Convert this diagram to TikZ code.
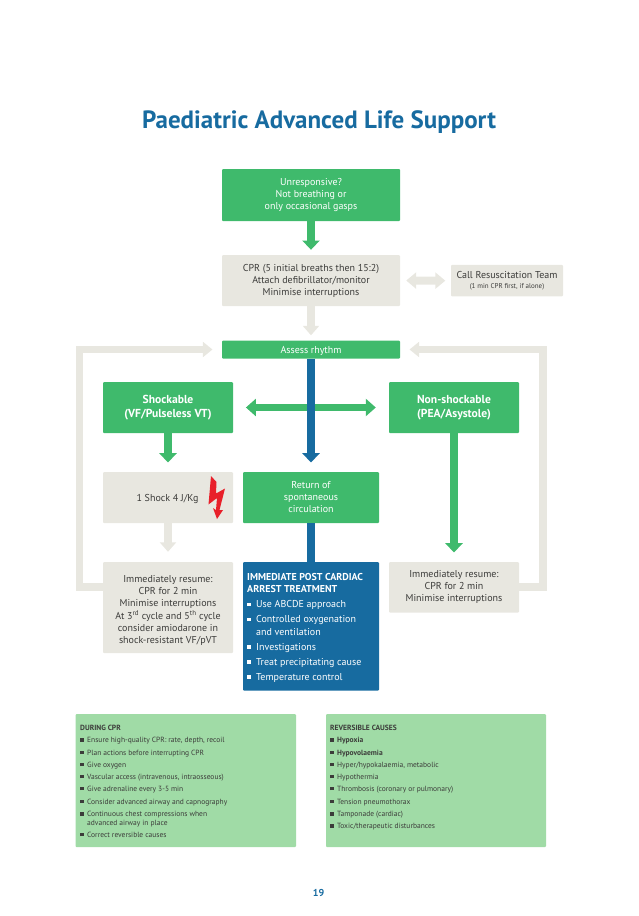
\documentclass[tikz,border=0pt]{standalone}
\usepackage{fontspec}
\setmainfont{PT Sans}
\usetikzlibrary{arrows.meta}
\definecolor{grn}{HTML}{3FBA6C}
\definecolor{gry}{HTML}{E8E7E0}
\definecolor{blu}{HTML}{176BA0}
\definecolor{lgrn}{HTML}{A0DBA6}
\definecolor{ink}{HTML}{3C3C3A}
\definecolor{zap}{HTML}{E8202A}
\newcommand{\bulbox}[2]{\makebox[#1][l]{\rule[0.3ex]{#2}{#2}}}
\newcommand{\bs}{\bulbox{7pt}{3.6pt}}
\newcommand{\bb}{\bulbox{9pt}{3.4pt}}
\newcommand{\supr}[1]{\smash{\textsuperscript{#1}}}
\tikzset{
  x=1pt,y=-1pt,
  boxbase/.style={rounded corners=1pt,inner sep=0pt,align=center,anchor=center,font=\fontsize{10}{12}\selectfont,execute at begin node={\rule{0pt}{11pt}}},
  greenbox/.style={boxbase,fill=grn,text=white},
  graybox/.style={boxbase,fill=gry,text=ink},
  bluebox/.style={boxbase,fill=blu,text=white},
  notebox/.style={rounded corners=1pt,fill=lgrn,inner sep=0pt},
  gflow/.style={draw=grn,line width=7.5pt,-{Triangle[width=17pt,length=9.3pt]},shorten >=9.3pt},
  yflow/.style={draw=gry,line width=7.5pt,-{Triangle[width=16pt,length=9.5pt]},shorten >=5pt},
  bflow/.style={draw=blu,line width=7.5pt,-{Triangle[width=17pt,length=9.3pt]},shorten >=9.3pt},
  bline/.style={draw=blu,line width=7.5pt},
  notetext/.style={anchor=north west,inner sep=0pt,align=left,text=ink,font=\fontsize{7.5}{9}\selectfont},
  posttext/.style={anchor=north west,inner sep=0pt,align=left,text=white,font=\fontsize{10}{12.4}\selectfont},
}
\begin{document}
\begin{tikzpicture}
\useasboundingbox (0,0) rectangle (638,916);
\node[inner sep=0pt,text=blu,font=\fontsize{25}{28}\selectfont\bfseries] (title) at (319,122.5) {Paediatric Advanced Life Support};

\node[greenbox,minimum width=178pt,minimum height=52pt] (un) at (311,195) {Unresponsive?\\Not breathing or\\only occasional gasps};
\node[graybox,minimum width=178pt,minimum height=51pt] (cpr) at (311,280.5) {CPR (5 initial breaths then 15:2)\\Attach defibrillator/monitor\\Minimise interruptions};
\node[graybox,minimum width=112pt,minimum height=31.5pt] (call) at (507,280.7) {Call Resuscitation Team\\[-2pt]{\fontsize{7}{8}\selectfont (1 min CPR first, if alone)}};
\node[greenbox,minimum width=178pt,minimum height=18pt] (assess) at (311,349.5) {Assess rhythm};
\node[greenbox,minimum width=130pt,minimum height=51pt,font=\fontsize{11.6}{14.3}\selectfont\bfseries] (shock) at (168,407.5) {Shockable\\(VF/Pulseless VT)};
\node[greenbox,minimum width=130pt,minimum height=51pt,font=\fontsize{11.6}{14.3}\selectfont\bfseries] (nonshock) at (454,407.5) {Non-shockable\\(PEA/Asystole)};
\node[graybox,minimum width=130pt,minimum height=51pt] (one) at (168,497.5) {};
\node[inner sep=0pt,text=ink,font=\fontsize{10}{12}\selectfont] (onelabel) at (167.5,498.7) {1 Shock 4 J/Kg};
\node[greenbox,minimum width=136pt,minimum height=51pt] (rosc) at (311,497.5) {Return of\\spontaneous\\circulation};
\node[graybox,minimum width=130pt,minimum height=91pt,font=\fontsize{10}{12.2}\selectfont] (imml) at (168,607.5) {\rule{0pt}{13pt}Immediately resume:\\CPR for 2 min\\Minimise interruptions\\At 3\supr{rd} cycle and 5\supr{th} cycle\\consider amiodarone in\\shock-resistant VF/pVT};
\node[bluebox,minimum width=136pt,minimum height=128.5pt] (post) at (311,626.25) {};
\node[posttext] (posttxt) at (247,573) {\textbf{IMMEDIATE POST CARDIAC}\\\textbf{ARREST TREATMENT}\\[2.6pt]\bb Use ABCDE approach\\[2.6pt]\bb Controlled oxygenation\\\hspace*{9pt}and ventilation\\[2.8pt]\bb Investigations\\[2.6pt]\bb Treat precipitating cause\\[2.6pt]\bb Temperature control};
\node[graybox,minimum width=130pt,minimum height=50.5pt] (immr) at (454,587.25) {Immediately resume:\\CPR for 2 min\\Minimise interruptions};

\node[notebox,minimum width=220.5pt,minimum height=133pt] (during) at (185.75,780.5) {};
\node[notetext] (duringtxt) at (80,725) {\textbf{DURING CPR}\\[3.3pt]\bs Ensure high-quality CPR: rate, depth, recoil\\[3.5pt]\bs Plan actions before interrupting CPR\\[3pt]\bs Give oxygen\\[3pt]\bs Vascular access (intravenous, intraosseous)\\[3pt]\bs Give adrenaline every 3-5 min\\[4pt]\bs Consider advanced airway and capnography\\[3.4pt]\bs Continuous chest compressions when\\\hspace*{7pt}advanced airway in place\\[2.6pt]\bs Correct reversible causes};
\node[notebox,minimum width=220pt,minimum height=133pt] (rev) at (436,780.5) {};
\node[notetext] (revtxt) at (330,725) {\textbf{REVERSIBLE CAUSES}\\[3.3pt]\bs \textbf{Hypoxia}\\[3.5pt]\bs \textbf{Hypovolaemia}\\[3pt]\bs Hyper/hypokalaemia, metabolic\\[3pt]\bs Hypothermia\\[3pt]\bs Thrombosis (coronary or pulmonary)\\[4pt]\bs Tension pneumothorax\\[3.4pt]\bs Tamponade (cardiac)\\[3pt]\bs Toxic/therapeutic disturbances};
\node[inner sep=0pt,text=blu,font=\fontsize{10}{12}\selectfont\bfseries] (page) at (318.5,893) {19};

\draw[gflow,shorten >=5pt] (un.south) -- (cpr.north);
\draw[yflow] (cpr.south) -- (assess.north);
\draw[draw=gry,line width=8pt,{Triangle[width=16pt,length=10pt]}-{Triangle[width=16pt,length=10pt]},shorten <=6pt,shorten >=5.5pt] (cpr.east) -- (call.west);
\draw[draw=grn,line width=7.5pt,{Triangle[width=17pt,length=10pt]}-{Triangle[width=17pt,length=10pt]},shorten <=12.7pt,shorten >=13pt] (shock.east) -- (nonshock.west);
\draw[bflow] (assess.south) -- (rosc.north);
\draw[bline] (rosc.south) -- (post.north);
\draw[gflow] (shock.south) -- (one.north);
\draw[gflow] (nonshock.south) -- (immr.north);
\draw[yflow,shorten >=10pt] (one.south) -- (imml.north);
\draw[yflow,shorten >=9.3pt,-{Triangle[width=15pt,length=9.7pt]}] (imml.west |- 0,587) -- (79.5,587) -- (79.5,349.5) -- (assess.west);
\draw[yflow,shorten >=9.3pt,-{Triangle[width=15pt,length=9.7pt]}] (immr.east |- 0,587) -- (543,587) -- (543,349.5) -- (assess.east);
\fill[zap] (211,476) -- (216.5,482) -- (216,493.5) -- (225,488.5) -- (219.5,510) -- (223,510) -- (217,519) -- (213,508) -- (216,510) -- (217,498) -- (208.5,504.5) -- cycle;
\end{tikzpicture}
\end{document}
